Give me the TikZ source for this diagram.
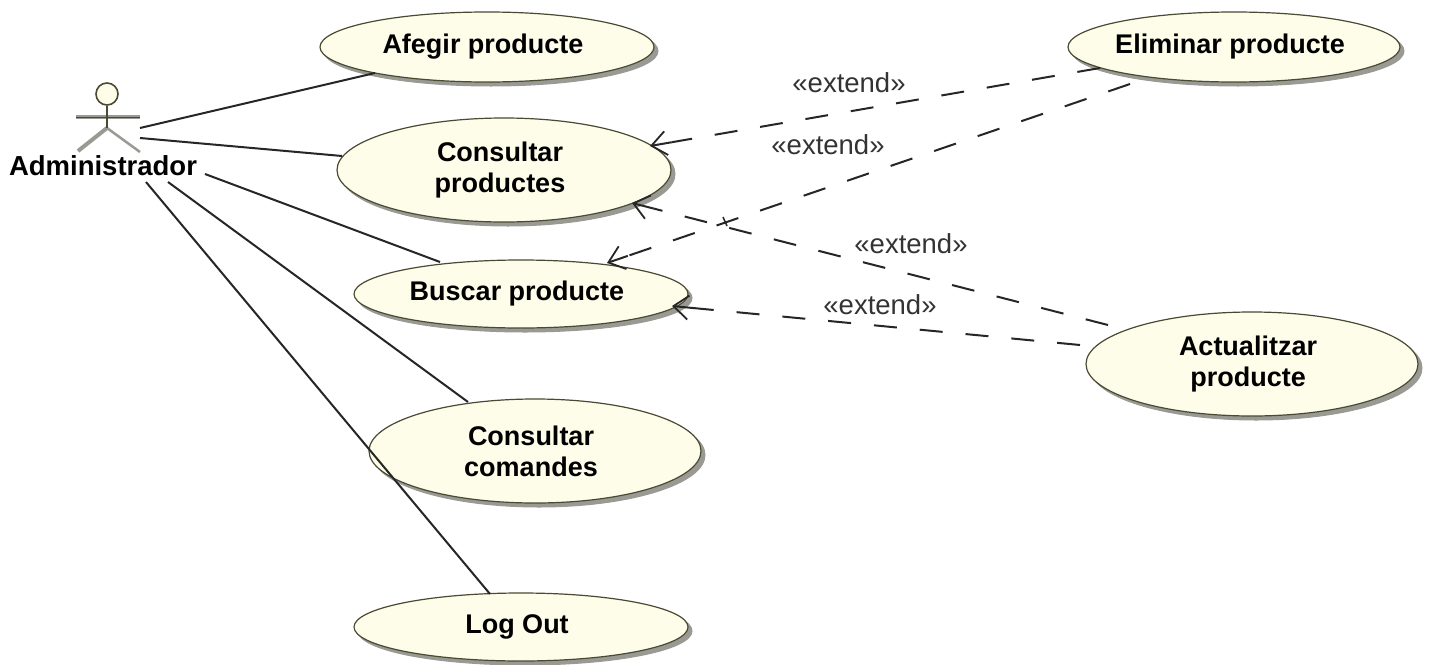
\documentclass[tikz,border=0pt]{standalone}
\usepackage{fontspec}
\setmainfont{Liberation Sans}
\usetikzlibrary{arrows.meta,calc,shapes.geometric}
\definecolor{ucfill}{HTML}{FDFDEA}
\definecolor{ucline}{HTML}{4A4A32}
\definecolor{shd}{HTML}{9A9A94}
\newcommand\sft{\kern8pt}
\tikzset{
  usecase/.style={ellipse,draw=ucline,line width=1.2pt,fill=ucfill,inner sep=-14pt,align=center,
    font=\fontsize{27}{31}\selectfont\bfseries,text=black,
    preaction={transform canvas={shift={(4pt,-4pt)}},fill=shd,draw=shd,line width=1pt}},
  assoc/.style={draw=black!85,line width=2pt},
  extendline/.style={draw=black!85,line width=2pt,dash pattern=on 23pt off 23pt},
  extendtip/.style={draw=black!85,-{Straight Barb[length=15pt,width=24pt,line width=1.8pt]},line width=2pt},
  stereo/.style={font=\fontsize{27.5}{30}\selectfont,text=black!80,inner sep=0pt},
  actorname/.style={font=\fontsize{27.5}{30}\selectfont\bfseries,text=black,inner sep=0pt}
}
\begin{document}
\begin{tikzpicture}[x=1pt,y=-1pt]
\useasboundingbox (0,0) rectangle (1434,664);
\fill[white] (0,0) rectangle (1434,664);
% use cases
\node[usecase,minimum width=334pt,minimum height=70pt] (afegir) at (487,47) {Afegir producte\sft};
\node[usecase,minimum width=334pt,minimum height=104pt] (consprod) at (504,170) {Consultar\sft\\productes\sft};
\node[usecase,minimum width=334pt,minimum height=68pt] (buscar) at (521,294) {Buscar producte\sft};
\node[usecase,minimum width=332pt,minimum height=104pt] (conscom) at (535,451) {Consultar\sft\\comandes\sft};
\node[usecase,minimum width=334pt,minimum height=68pt] (logout) at (521,627) {Log Out\sft};
\node[usecase,minimum width=332pt,minimum height=70pt] (elim) at (1234,47) {Eliminar producte\sft};
\node[usecase,minimum width=332pt,minimum height=104pt] (actual) at (1252,364) {Actualitzar\sft\\producte\sft};
% actor
\node[circle,draw=ucline,line width=1.6pt,fill=ucfill,minimum size=22pt,inner sep=0pt] (head) at (107,94) {};
\coordinate (hip) at (107,128);
\coordinate (armL) at (76,117);
\coordinate (armR) at (140,117);
\coordinate (legL) at (78,151);
\coordinate (legR) at (140,152);
\draw[color=shd,line width=4pt] (armL) -- (armR);
\draw[color=shd,line width=4pt] (hip) -- (legL);
\draw[color=shd,line width=2.5pt] (hip) -- (legR);
\draw[ucline,line width=1pt] (armL) -- (armR);
\draw[ucline,line width=1.4pt] (head) -- (hip);
\node[actorname] (actorlabel) at (103,166) {Administrador};
% association ends
\coordinate (s1) at (140,128);
\coordinate (s2) at (140,138);
\coordinate (s3) at (205,174);
\coordinate (s4) at (168,182);
\coordinate (s5) at (146,182);
\coordinate (e1) at (375,73);
\coordinate (e2) at (342,156);
\coordinate (e3) at (440,262);
\coordinate (e4) at (468,402);
\coordinate (e5) at (490,594);
\draw[assoc] (s1) -- (e1);
\draw[assoc] (s2) -- (e2);
\draw[assoc] (s3) -- (e3);
\draw[assoc] (s4) -- (e4);
\draw[assoc] (s5) -- (e5);
% extend connectors
\coordinate (x1s) at (1100,68);
\coordinate (x1e) at (650,146);
\coordinate (x2s) at (1130,84);
\coordinate (x2e) at (607,263);
\coordinate (x3s) at (1108,325);
\coordinate (x3e) at (632,203);
\coordinate (x4s) at (1080,345);
\coordinate (x4e) at (672,306);
\draw[extendline] (x1s) -- ($(x1e)!22pt!(x1s)$);
\draw[extendline] (x2s) -- ($(x2e)!22pt!(x2s)$);
\draw[extendline] (x3s) -- ($(x3e)!22pt!(x3s)$);
\draw[extendline] (x4s) -- ($(x4e)!22pt!(x4s)$);
\draw[extendtip] ($(x1e)!22pt!(x1s)$) -- (x1e);
\draw[extendtip] ($(x2e)!22pt!(x2s)$) -- (x2e);
\draw[extendtip] ($(x3e)!22pt!(x3s)$) -- (x3e);
\draw[extendtip] ($(x4e)!22pt!(x4s)$) -- (x4e);
\coordinate (t1) at (723,217);
\coordinate (t2) at (727,226);
\draw[draw=black!85,line width=1.5pt] (t1) -- (t2);
\node[stereo] (l1) at (849,83) {«extend»};
\node[stereo] (l2) at (828,145) {«extend»};
\node[stereo] (l3) at (911,244) {«extend»};
\node[stereo] (l4) at (880,305) {«extend»};
\end{tikzpicture}
\end{document}
